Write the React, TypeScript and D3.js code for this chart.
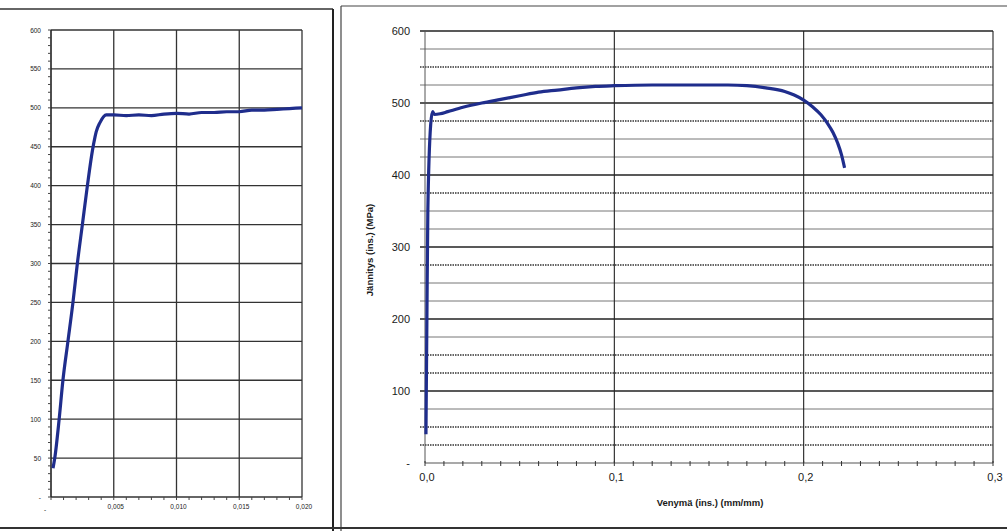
import React from 'react';
import * as d3 from 'd3';

// left panel: zoomed start of the curve
const leftStrain = [0.00016, 0.0003, 0.00065, 0.00095, 0.00135, 0.00175, 0.0021, 0.0025, 0.0029, 0.0033, 0.0035, 0.0036, 0.0039, 0.0044, 0.005, 0.006, 0.007, 0.008, 0.009, 0.01, 0.011, 0.012, 0.013, 0.014, 0.015, 0.016, 0.017, 0.018, 0.019, 0.02];
const leftStress = [37, 50, 100, 150, 200, 250, 300, 350, 400, 445, 462, 469, 481, 491, 491, 490, 491, 490, 492, 493, 492, 494, 494, 495, 495, 497, 497, 498, 499, 500];
const leftYTicks = [0, 50, 100, 150, 200, 250, 300, 350, 400, 450, 500, 550, 600];
const leftXTicks = [0, 0.005, 0.01, 0.015, 0.02];
const leftXLabels = ['-', '0,005', '0,010', '0,015', '0,020'];

// right panel: full curve
const rightStrain = [0.0005, 0.001, 0.0015, 0.003, 0.004, 0.005, 0.008, 0.012, 0.02, 0.03, 0.04, 0.05, 0.06, 0.07, 0.08, 0.09, 0.1, 0.12, 0.14, 0.16, 0.17, 0.18, 0.19, 0.195, 0.2, 0.205, 0.209, 0.2125, 0.2155, 0.218, 0.2200, 0.2216];
const rightStress = [40, 200, 350, 470, 488, 484, 485, 488, 494, 500, 505, 510, 515, 518, 521, 523, 524, 525, 525, 525, 524, 521, 516, 511, 504, 494, 484, 472, 459, 444, 428, 410];
const rightYTicks = [0, 100, 200, 300, 400, 500, 600];
const rightYLabels = ['-', '100', '200', '300', '400', '500', '600'];
const rightGrid = d3.range(25, 601, 25);
const rightDotted = [550, 475, 375, 275, 150, 125, 50, 25];
const rightXTicks = [0, 0.1, 0.2, 0.3];
const rightXLabels = ['0,0', '0,1', '0,2', '0,3'];

const blue = '#1f2d8c';
const font = '"Liberation Sans", Arial, sans-serif';

const LeftChart = () => {
  const x = d3.scaleLinear().domain([0, 0.02]).range([51, 302]);
  const y = d3.scaleLinear().domain([0, 600]).range([497, 30]);
  const line = d3.line<number>().x((d) => x(d)).y((_, i) => y(leftStress[i])).curve(d3.curveMonotoneX);
  const minorY = d3.range(0, 601, 10);
  const minorX = d3.range(0, 0.0201, 0.001);
  return (
    <g>
      {leftYTicks.map((t) => (
        <line key={'gy' + t} x1={x(0)} x2={x(0.02)} y1={y(t)} y2={y(t)} stroke="#333" strokeWidth={t === 0 ? 1.6 : 1.3} />
      ))}
      {leftXTicks.slice(1).map((t) => (
        <line key={'gx' + t} x1={x(t)} x2={x(t)} y1={y(0)} y2={y(600)} stroke="#333" strokeWidth={1.3} />
      ))}
      <line x1={x(0)} x2={x(0)} y1={y(0)} y2={y(600)} stroke="#222" strokeWidth={1.6} />
      {minorY.map((t) => (
        <line key={'my' + t} x1={x(0) - 3} x2={x(0)} y1={y(t)} y2={y(t)} stroke="#444" strokeWidth={1} />
      ))}
      {minorX.map((t, i) => (
        <line key={'mx' + i} x1={x(t)} x2={x(t)} y1={y(0)} y2={y(0) + 3} stroke="#444" strokeWidth={1} />
      ))}
      {leftYTicks.map((t) => (
        <text key={'ly' + t} x={41} y={y(t) + 2.5} fontSize={6.5} textAnchor="end" fill="#222" fontFamily={font}>
          {t === 0 ? '-' : t}
        </text>
      ))}
      {leftXTicks.map((t, i) => (
        <text key={'lx' + t} x={i === 0 ? 45 : x(t) + 2} y={i === 0 ? 512 : 509} fontSize={6.5} textAnchor="middle" fill="#222" fontFamily={font}>
          {leftXLabels[i]}
        </text>
      ))}
      <path d={line(leftStrain) || ''} fill="none" stroke={blue} strokeWidth={3.2} strokeLinejoin="round" />
    </g>
  );
};

const RightChart = () => {
  const x = d3.scaleLinear().domain([0, 0.3]).range([425, 993]);
  const y = d3.scaleLinear().domain([0, 600]).range([463, 31]);
  const line = d3.line<number>().x((d) => x(d)).y((_, i) => y(rightStress[i])).curve(d3.curveMonotoneX);
  const minorX = d3.range(0, 0.3001, 0.01);
  return (
    <g>
      {rightGrid.map((t) => {
        const dotted = rightDotted.includes(t);
        const major = t % 100 === 0;
        return (
          <line key={'g' + t} x1={x(0) - 5} x2={x(0.3)} y1={y(t)} y2={y(t)}
            stroke={dotted ? '#333' : major ? '#222' : '#666'}
            strokeWidth={dotted ? 1.4 : major ? 1.3 : 0.9}
            strokeDasharray={dotted ? '1.5,1' : undefined} />
        );
      })}
      {rightXTicks.slice(1).map((t) => (
        <line key={'vx' + t} x1={x(t)} x2={x(t)} y1={y(0)} y2={y(600)} stroke="#222" strokeWidth={1.1} />
      ))}
      <line x1={x(0)} x2={x(0.3)} y1={y(0)} y2={y(0)} stroke="#555" strokeWidth={1.2} />
      <line x1={x(0)} x2={x(0)} y1={y(0)} y2={y(600)} stroke="#555" strokeWidth={1} />
      {minorX.map((t, i) => (
        <line key={'mx' + i} x1={x(t)} x2={x(t)} y1={y(0) - 2} y2={y(0) + 3} stroke="#333" strokeWidth={1} />
      ))}
      {rightYTicks.map((t, i) => (
        <text key={'ry' + t} x={410} y={y(t) + 4} fontSize={11} textAnchor="end" fill="#1a1a1a" fontFamily={font}>
          {rightYLabels[i]}
        </text>
      ))}
      {rightXTicks.map((t, i) => (
        <text key={'rx' + t} x={x(t) + 2} y={481} fontSize={11} textAnchor="middle" fill="#1a1a1a" fontFamily={font}>
          {rightXLabels[i]}
        </text>
      ))}
      <text x={710} y={506} fontSize={9.5} fontWeight="bold" textAnchor="middle" fill="#1a1a1a" fontFamily={font}>
        Venymä (ins.) (mm/mm)
      </text>
      <text transform="translate(373,250) rotate(-90)" fontSize={9.5} fontWeight="bold" textAnchor="middle" fill="#1a1a1a" fontFamily={font}>
        Jännitys (ins.) (MPa)
      </text>
      <path d={line(rightStrain) || ''} fill="none" stroke={blue} strokeWidth={3.2} strokeLinejoin="round" />
    </g>
  );
};

export default function App() {
  return (
    <svg width={1007} height={531} style={{ position: 'absolute', left: 0, top: 0, background: '#fff' }}>
      <rect width={1007} height={531} fill="#fff" />
      {/* scanned panel frames */}
      <line x1={0} x2={333} y1={9} y2={9} stroke="#333" strokeWidth={1.5} />
      <line x1={333} x2={333} y1={9} y2={531} stroke="#222" strokeWidth={2} />
      <line x1={341} x2={341} y1={6} y2={531} stroke="#444" strokeWidth={1.2} />
      <line x1={341} x2={1007} y1={6} y2={6} stroke="#444" strokeWidth={1.2} />
      <line x1={0} x2={1007} y1={528} y2={528} stroke="#333" strokeWidth={2} />
      <LeftChart />
      <RightChart />
    </svg>
  );
}
